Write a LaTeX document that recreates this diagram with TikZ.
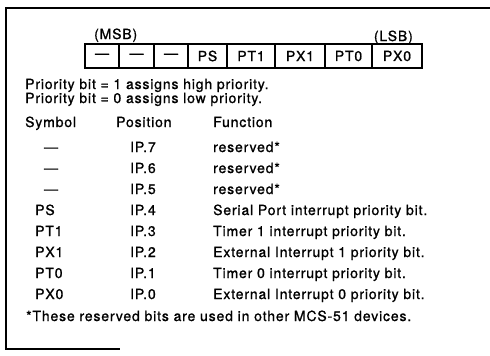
\documentclass[tikz,border=0pt]{standalone}
\usepackage{fontspec}
\setmainfont{TeX Gyre Heros}
\newfontfamily\regfont[LetterSpace=6, FakeBold=1]{TeX Gyre Heros}
\usetikzlibrary{positioning}
\tikzstyle{bitbox} = [rectangle, draw=black, line width=1.1pt, minimum height=24pt, inner sep=0pt, outer sep=0pt, text centered, font=\regfont\fontsize{14}{16}\selectfont]
\tikzstyle{txt} = [anchor=base west, inner sep=0pt, font=\regfont\fontsize{14}{16}\selectfont]
\tikzstyle{sym} = [anchor=base, inner sep=0pt, font=\regfont\fontsize{14}{16}\selectfont]
\tikzstyle{frame} = [line width=1.2pt]

\begin{document}
\begin{tikzpicture}[x=1pt, y=-1pt]
    \useasboundingbox (0,0) rectangle (490,356);

        % Frame
        \draw [frame] (490,8) -- (6,8) -- (6,349) -- (120,349);

        % Register
        \node (b7) [bitbox, minimum width=34pt, anchor=north west] at (85,44) {—};
        \node (b6) [bitbox, minimum width=35pt, right=0pt of b7] {—};
        \node (b5) [bitbox, minimum width=34pt, right=0pt of b6] {—};
        \node (b4) [bitbox, minimum width=39pt, right=0pt of b5] {PS};
        \node (b3) [bitbox, minimum width=48pt, right=0pt of b4] {PT1};
        \node (b2) [bitbox, minimum width=50pt, right=0pt of b3] {PX1};
        \node (b1) [bitbox, minimum width=47pt, right=0pt of b2] {PT0};
        \node (b0) [bitbox, minimum width=50pt, right=0pt of b1] {PX0};
        \node (msb) [txt] at (94,39) {(MSB)};
        \node (lsb) [txt, anchor=base east] at (413,41) {(LSB)};

        % Notes
        \node (high) [txt] at (25,89) {Priority bit = 1 assigns high priority.};
        \node (low) [txt] at (25,103) {Priority bit = 0 assigns low priority.};

        % Table
        \node (hsym) [txt] at (25,127) {Symbol};
        \node (hpos) [txt] at (116,127) {Position};
        \node (hfun) [txt] at (213,127) {Function};

        \node (s7) [sym] at (51,152) {—};
        \node (p7) [txt] at (130,152) {IP.7};
        \node (f7) [txt] at (213,152) {reserved*};
        \node (s6) [sym] at (51,173) {—};
        \node (p6) [txt] at (130,173) {IP.6};
        \node (f6) [txt] at (213,173) {reserved*};
        \node (s5) [sym] at (51,194) {—};
        \node (p5) [txt] at (130,194) {IP.5};
        \node (f5) [txt] at (213,194) {reserved*};
        \node (s4) [txt] at (35,215) {PS};
        \node (p4) [txt] at (130,215) {IP.4};
        \node (f4) [txt] at (213,215) {Serial Port interrupt priority bit.};
        \node (s3) [txt] at (35,236) {PT1};
        \node (p3) [txt] at (130,236) {IP.3};
        \node (f3) [txt] at (213,236) {Timer 1 interrupt priority bit.};
        \node (s2) [txt] at (35,257) {PX1};
        \node (p2) [txt] at (130,257) {IP.2};
        \node (f2) [txt] at (213,257) {External Interrupt 1 priority bit.};
        \node (s1) [txt] at (35,278) {PT0};
        \node (p1) [txt] at (130,278) {IP.1};
        \node (f1) [txt] at (213,278) {Timer 0 interrupt priority bit.};
        \node (s0) [txt] at (35,299) {PX0};
        \node (p0) [txt] at (130,299) {IP.0};
        \node (f0) [txt] at (213,299) {External Interrupt 0 priority bit.};

        \node (foot) [txt] at (26,321) {*These reserved bits are used in other MCS-51 devices.};

    \end{tikzpicture}
\end{document}
